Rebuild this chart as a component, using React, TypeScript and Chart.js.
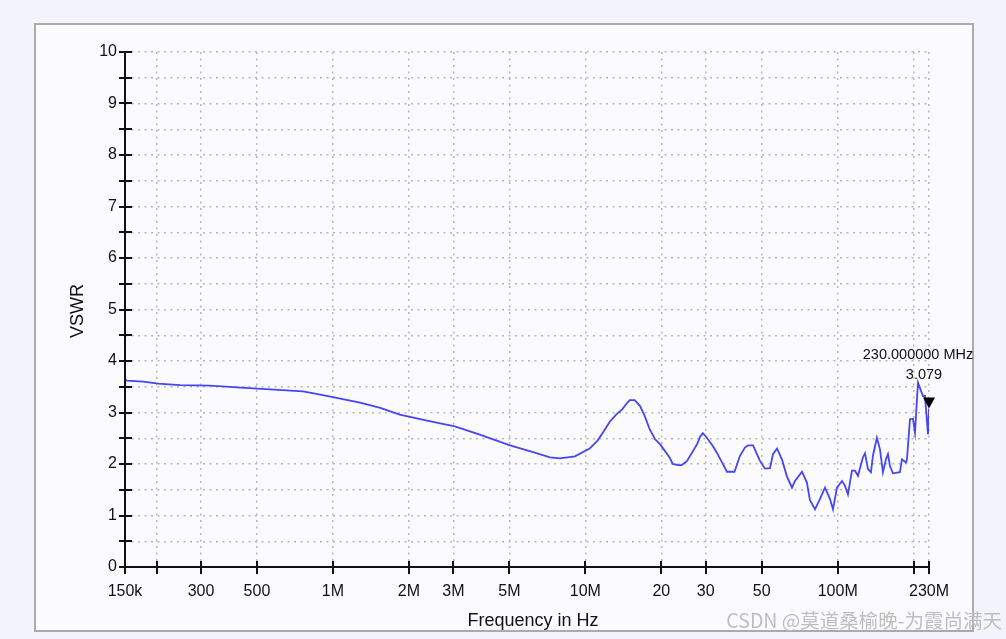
import React, { useEffect, useRef } from "react";
import { Chart, registerables } from "chart.js";

Chart.register(...registerables);

// Frequency in MHz
const freqMHz = [
  0.15, 0.153, 0.177, 0.203, 0.248, 0.326, 0.448, 0.563, 0.761, 0.86,
  1.0, 1.28, 1.54, 1.84, 2.36, 3.04, 3.82, 5.03, 6.21, 7.25,
  7.94, 9.1, 10.4, 11.2, 11.85, 12.5, 13.3, 14.0, 14.5, 15.0,
  15.7, 16.5, 17.2, 18.0, 18.9, 19.8, 21.6, 22.2, 23.3, 24.1,
  25.3, 27.7, 28.5, 29.2, 30.1, 32.0, 33.2, 34.8, 36.4, 37.4,
  39.0, 41.0, 42.9, 44.1, 46.2, 49.2, 51.5, 53.9, 55.4, 57.5,
  60.1, 62.9, 65.9, 67.7, 72.2, 75.5, 77.6, 81.3, 85.0, 89.0,
  91.5, 93.2, 95.8, 99.3, 104.0, 106.8, 109.8, 113.9, 117.1, 120.3,
  125.9, 128.3, 131.8, 135.4, 137.9, 143.0, 147.0, 151.1, 155.3, 158.2,
  161.1, 165.5, 176.4, 179.7, 186.4, 188.1, 193.3, 198.7, 202.4, 208.0,
  217.7, 221.7, 227.9, 230.0,
];

// VSWR values
const vswr = [
  3.64, 3.62, 3.6, 3.56, 3.53, 3.52, 3.48, 3.45, 3.41, 3.36,
  3.3, 3.19, 3.09, 2.96, 2.84, 2.73, 2.57, 2.36, 2.23, 2.13,
  2.11, 2.15, 2.3, 2.46, 2.64, 2.82, 2.97, 3.06, 3.16, 3.24,
  3.24, 3.12, 2.93, 2.67, 2.48, 2.38, 2.12, 2.0, 1.98, 1.98,
  2.06, 2.38, 2.53, 2.6, 2.53, 2.35, 2.22, 2.03, 1.85, 1.85,
  1.85, 2.16, 2.32, 2.36, 2.36, 2.06, 1.91, 1.92, 2.19, 2.3,
  2.09, 1.76, 1.54, 1.67, 1.85, 1.64, 1.3, 1.12, 1.32, 1.54,
  1.41, 1.32, 1.12, 1.54, 1.67, 1.58, 1.41, 1.87, 1.87, 1.77,
  2.13, 2.21, 1.9, 1.84, 2.16, 2.51, 2.29, 1.84, 2.09, 2.19,
  1.96, 1.82, 1.84, 2.09, 2.03, 2.09, 2.87, 2.88, 2.61, 3.58,
  3.32, 3.32, 2.58, 3.079,
];

const xTickValues = [0.15, 0.2, 0.3, 0.5, 1, 2, 3, 5, 10, 20, 30, 50, 100, 200, 230];
const xTickLabels = ["150k", "", "300", "500", "1M", "2M", "3M", "5M", "10M", "20", "30", "50", "100M", "", "230M"];

const markerFreq = 230;
const markerValue = 3.079;
const markerLabels = ["230.000000 MHz", "3.079"];

const xTitle = "Frequency in Hz";
const yTitle = "VSWR";

const FONT = "'Liberation Sans', Arial, sans-serif";

const axesPlugin = {
  id: "customAxes",
  afterDraw(chart: any) {
    const { ctx, chartArea: a, scales } = chart;
    const x = scales.x;
    const y = scales.y;
    ctx.save();
    ctx.strokeStyle = "#111";
    ctx.lineWidth = 2;
    ctx.beginPath();
    ctx.moveTo(a.left, a.top);
    ctx.lineTo(a.left, a.bottom + 1);
    ctx.moveTo(a.left - 1, a.bottom);
    ctx.lineTo(a.right, a.bottom);
    y.ticks.forEach((t: any) => {
      const py = Math.round(y.getPixelForValue(t.value));
      ctx.moveTo(a.left - 6, py);
      ctx.lineTo(a.left + 7, py);
    });
    x.ticks.forEach((t: any) => {
      const px = Math.round(x.getPixelForValue(t.value));
      ctx.moveTo(px, a.bottom - 6);
      ctx.lineTo(px, a.bottom + 7);
    });
    ctx.stroke();

    // axis titles
    ctx.fillStyle = "#111";
    ctx.font = `18px ${FONT}`;
    ctx.textAlign = "center";
    ctx.textBaseline = "middle";
    ctx.fillText(xTitle, 533, 621);
    ctx.save();
    ctx.translate(78, 311);
    ctx.rotate(-Math.PI / 2);
    ctx.fillText(yTitle, 0, 0);
    ctx.restore();

    // marker
    const mx = x.getPixelForValue(markerFreq);
    const my = y.getPixelForValue(markerValue);
    ctx.fillStyle = "#000";
    ctx.beginPath();
    ctx.moveTo(mx - 6, my - 11);
    ctx.lineTo(mx + 6, my - 11);
    ctx.lineTo(mx, my);
    ctx.closePath();
    ctx.fill();

    ctx.font = `14.5px ${FONT}`;
    ctx.textBaseline = "alphabetic";
    ctx.fillStyle = "#111";
    ctx.fillText(markerLabels[0], mx - 11, my - 49.5);
    ctx.fillText(markerLabels[1], mx - 5, my - 29.5);
    ctx.restore();
  },
};

export default function App() {
  const ref = useRef<HTMLCanvasElement>(null);

  useEffect(() => {
    const canvas = ref.current;
    if (!canvas) return;
    const gridCommon = {
      color: "#b8b8b8",
      lineWidth: 1.5,
      drawTicks: false,
      drawOnChartArea: true,
    };
    const chart = new Chart(canvas, {
      type: "line",
      data: {
        datasets: [
          {
            data: freqMHz.map((f, i) => ({ x: f, y: vswr[i] })),
            borderColor: "#4646f2",
            borderWidth: 1.8,
            pointRadius: 0,
            tension: 0,
            fill: false,
          },
        ],
      },
      options: {
        responsive: false,
        animation: false,
        devicePixelRatio: 1,
        layout: { padding: { left: 0, top: 52, right: 77, bottom: 0 } },
        plugins: {
          legend: { display: false },
          tooltip: { enabled: false },
        },
        scales: {
          x: {
            type: "logarithmic",
            min: 0.15,
            max: 230,
            afterBuildTicks: (s: any) => {
              s.ticks = xTickValues.map((v) => ({ value: v }));
            },
            afterFit: (s: any) => {
              s.height = 72;
            },
            grid: gridCommon,
            border: { display: false, dash: [2, 4.5] },
            ticks: {
              autoSkip: false,
              maxRotation: 0,
              minRotation: 0,
              padding: 15,
              color: "#111",
              font: { family: FONT, size: 16 },
              callback: (_v: any, i: number) => xTickLabels[i],
            },
          },
          y: {
            type: "linear",
            min: 0,
            max: 10,
            afterFit: (s: any) => {
              s.width = 125;
            },
            grid: gridCommon,
            border: { display: false, dash: [2, 4.5] },
            ticks: {
              stepSize: 0.5,
              autoSkip: false,
              padding: 8,
              color: "#111",
              font: { family: FONT, size: 16 },
              callback: (v: any) => (Number.isInteger(v) ? String(v) : ""),
            },
          },
        },
      } as any,
      plugins: [axesPlugin],
    });
    return () => chart.destroy();
  }, []);

  return (
    <div
      style={{
        position: "fixed",
        left: 0,
        top: 0,
        width: 1006,
        height: 639,
        background: "#f3f4fb",
        overflow: "hidden",
      }}
    >
      <div
        style={{
          position: "absolute",
          left: 34,
          top: 23,
          width: 940,
          height: 609,
          boxSizing: "border-box",
          background: "#fbfbfe",
          border: "2px solid #ababab",
        }}
      />
      <canvas
        ref={ref}
        width={1006}
        height={639}
        style={{ position: "absolute", left: 0, top: 0, width: 1006, height: 639 }}
      />
      <div
        style={{
          position: "absolute",
          right: 4,
          top: 606,
          fontFamily: "'Noto Sans CJK SC', sans-serif",
          fontSize: 19.5,
          lineHeight: "28px",
          color: "#bebebe",
          whiteSpace: "nowrap",
        }}
      >
        CSDN @莫道桑榆晚-为霞尚满天
      </div>
    </div>
  );
}
